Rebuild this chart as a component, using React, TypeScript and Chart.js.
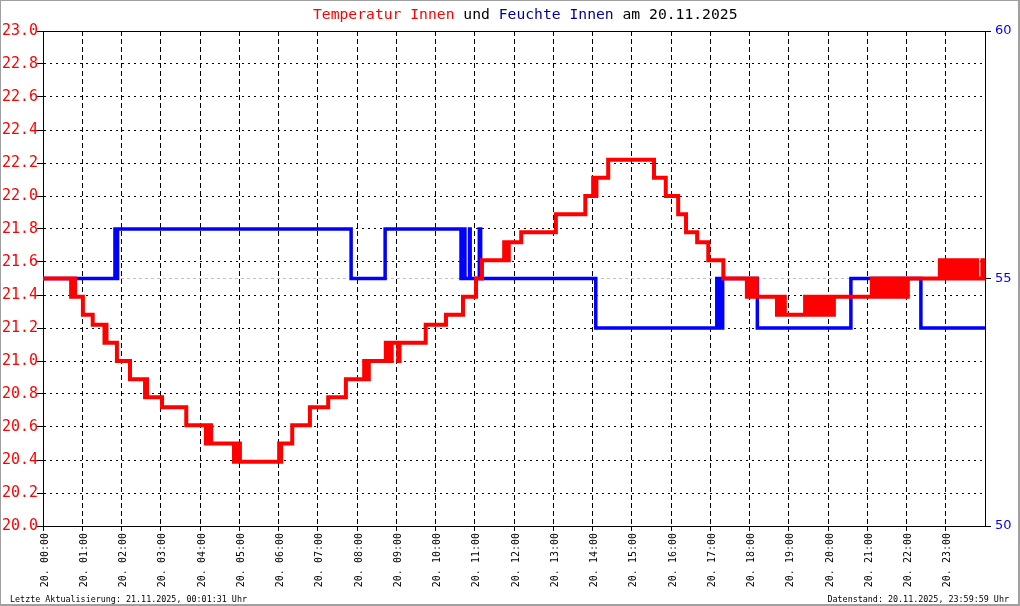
import React, { useEffect, useRef } from 'react';
import { Chart, registerables } from 'chart.js';

Chart.register(...registerables);

// Temperatur Innen: change points (minutes after 00:00, °C)
const tempTimes = [
  0, 43, 44, 46, 47, 49, 61, 76, 94, 96, 97, 113, 133, 156, 158, 159, 182, 219,
  249, 251, 253, 255, 257, 292, 294, 296, 299, 301, 361, 363, 364, 381, 408, 436,
  463, 491, 493, 495, 496, 498, 524, 527, 529, 531, 533, 543, 545, 585, 616, 642,
  662, 671, 705, 707, 709, 711, 712, 731, 784, 829, 841, 843, 846, 864, 934, 952,
  971, 983, 1000, 1017, 1040, 1076, 1078, 1081, 1083, 1086, 1088, 1091, 1122, 1124,
  1127, 1129, 1131, 1133, 1134, 1165, 1166, 1168, 1170, 1172, 1174, 1176, 1178,
  1181, 1183, 1185, 1187, 1190, 1192, 1194, 1196, 1199, 1203, 1204, 1208, 1209,
  1267, 1269, 1271, 1273, 1275, 1277, 1279, 1281, 1283, 1285, 1288, 1290, 1292,
  1294, 1296, 1299, 1301, 1303, 1305, 1307, 1309, 1311, 1313, 1315, 1317, 1319,
  1322, 1371, 1373, 1375, 1377, 1379, 1381, 1383, 1386, 1388, 1390, 1392, 1394,
  1396, 1398, 1400, 1402, 1404, 1407, 1413, 1415, 1417, 1419, 1421, 1423, 1425,
  1428, 1436, 1437, 1440,
];
const tempValues = [
  21.5, 21.39, 21.5, 21.39, 21.5, 21.39, 21.28, 21.22, 21.11, 21.22, 21.11, 21.0, 20.89, 20.78, 20.89, 20.78, 20.72, 20.61,
  20.5, 20.61, 20.5, 20.61, 20.5, 20.39, 20.5, 20.39, 20.5, 20.39, 20.5, 20.39, 20.5, 20.61, 20.72, 20.78,
  20.89, 21.0, 20.89, 21.0, 20.89, 21.0, 21.11, 21.0, 21.11, 21.0, 21.11, 21.0, 21.11, 21.22, 21.28, 21.39,
  21.5, 21.61, 21.72, 21.61, 21.72, 21.61, 21.72, 21.78, 21.89, 22.0, 22.11, 22.0, 22.11, 22.22, 22.11, 22.0,
  21.89, 21.78, 21.72, 21.61, 21.5, 21.39, 21.5, 21.39, 21.5, 21.39, 21.5, 21.39, 21.28, 21.39,
  21.28, 21.39, 21.28, 21.39, 21.28, 21.39, 21.28, 21.39, 21.28, 21.39, 21.28, 21.39, 21.28,
  21.39, 21.28, 21.39, 21.28, 21.39, 21.28, 21.39, 21.28, 21.39, 21.28, 21.39, 21.28, 21.39,
  21.5, 21.39, 21.5, 21.39, 21.5, 21.39, 21.5, 21.39, 21.5, 21.39, 21.5, 21.39, 21.5,
  21.39, 21.5, 21.39, 21.5, 21.39, 21.5, 21.39, 21.5, 21.39, 21.5, 21.39, 21.5, 21.39,
  21.5, 21.61, 21.5, 21.61, 21.5, 21.61, 21.5, 21.61, 21.5, 21.61, 21.5, 21.61, 21.5,
  21.61, 21.5, 21.61, 21.5, 21.61, 21.5, 21.61, 21.5, 21.61, 21.5, 21.61, 21.5, 21.61,
  21.5, 21.61, 21.5, 21.5,
];

// Feuchte Innen: change points (minutes after 00:00, %)
const humTimes = [
  0, 110, 111, 114, 471, 523, 639, 640, 642, 643, 645, 652, 653, 667, 669, 845,
  1030, 1031, 1033, 1034, 1036, 1037, 1039, 1092, 1235, 1342, 1440,
];
const humValues = [
  55, 56, 55, 56, 55, 56, 55, 56, 55, 56, 55, 56, 55, 56, 55, 54,
  55, 54, 55, 54, 55, 54, 55, 54, 55, 54, 54,
];

const xTickLabels = [
  '20. 00:00', '20. 01:00', '20. 02:00', '20. 03:00', '20. 04:00', '20. 05:00',
  '20. 06:00', '20. 07:00', '20. 08:00', '20. 09:00', '20. 10:00', '20. 11:00',
  '20. 12:00', '20. 13:00', '20. 14:00', '20. 15:00', '20. 16:00', '20. 17:00',
  '20. 18:00', '20. 19:00', '20. 20:00', '20. 21:00', '20. 22:00', '20. 23:00',
];

const footerLeft = 'Letzte Aktualisierung: 21.11.2025, 00:01:31 Uhr';
const footerRight = 'Datenstand: 20.11.2025, 23:59:59 Uhr';

const MONO = '"DejaVu Sans Mono", "Liberation Mono", monospace';

export default function App() {
  const canvasRef = useRef<HTMLCanvasElement | null>(null);

  useEffect(() => {
    const canvas = canvasRef.current;
    if (!canvas) return;

    const topBorder = {
      id: 'topBorder',
      beforeDatasetsDraw(chart: any) {
        const { ctx, chartArea } = chart;
        ctx.save();
        ctx.fillStyle = '#000';
        ctx.fillRect(chartArea.left, chartArea.top, chartArea.right - chartArea.left, 1);
        ctx.restore();
      },
    };

    const chart = new Chart(canvas, {
      type: 'line',
      data: {
        datasets: [
          {
            label: 'Temperatur Innen',
            data: tempTimes.map((t, i) => ({ x: t, y: tempValues[i] })),
            borderColor: '#ff0000',
            borderWidth: 4,
            stepped: true,
            pointRadius: 0,
            yAxisID: 'y',
            order: 0,
          },
          {
            label: 'Feuchte Innen',
            data: humTimes.map((t, i) => ({ x: t, y: humValues[i] })),
            borderColor: '#0000ff',
            borderWidth: 3.5,
            stepped: true,
            pointRadius: 0,
            yAxisID: 'y2',
            order: 1,
          },
        ],
      },
      options: {
        responsive: false,
        animation: false,
        devicePixelRatio: 1,
        layout: { padding: { top: 31, left: 0, right: 0, bottom: 0 } },
        plugins: {
          legend: { display: false },
          title: { display: false },
          tooltip: { enabled: false },
        },
        scales: {
          x: {
            type: 'linear',
            min: 0,
            max: 1440,
            afterFit(scale: any) {
              scale.height = 80;
            },
            ticks: {
              stepSize: 60,
              autoSkip: false,
              minRotation: 90,
              maxRotation: 90,
              padding: 2,
              labelOffset: 2,
              color: '#000',
              font: { family: MONO, size: 10 },
              callback: (_v: any, i: number) => (i < xTickLabels.length ? xTickLabels[i] : null),
            },
            grid: { color: '#000', lineWidth: 1, tickLength: 5, tickColor: '#000' },
            border: { display: true, color: '#000', width: 1, dash: [5, 3] },
          },
          y: {
            position: 'left',
            min: 20,
            max: 23,
            afterFit(scale: any) {
              scale.width = 43;
            },
            ticks: {
              stepSize: 0.2,
              padding: -1,
              color: '#ff0000',
              font: { family: MONO, size: 15 },
              callback: (v: any) => Number(v).toFixed(1),
            },
            grid: { color: '#000', lineWidth: 1, tickLength: 6, tickColor: '#000' },
            border: { display: true, color: '#000', width: 1, dash: [2, 4] },
          },
          y2: {
            position: 'right',
            min: 50,
            max: 60,
            afterFit(scale: any) {
              scale.width = 35;
            },
            ticks: {
              stepSize: 5,
              padding: 4,
              color: '#0000ff',
              font: { family: '"DejaVu Sans", sans-serif', size: 13 },
              callback: (v: any) => String(Math.round(Number(v))),
            },
            grid: {
              color: (c: any) => (c.tick && c.tick.value === 55 ? '#c0c0c0' : 'rgba(0,0,0,0)'),
              lineWidth: 1,
              tickLength: 6,
              tickColor: '#000',
            },
            border: { display: true, color: '#000', width: 1, dash: [3, 3] },
          },
        },
      },
      plugins: [topBorder],
    });

    return () => chart.destroy();
  }, []);

  return (
    <div style={{ position: 'absolute', left: 0, top: 0, width: 1020, height: 606, background: '#fff', overflow: 'hidden' }}>
      <canvas ref={canvasRef} width={1020} height={606} style={{ position: 'absolute', left: 0, top: 0, width: 1020, height: 606 }} />
      <div
        style={{
          position: 'absolute', left: 313, top: 5.5, fontFamily: MONO, fontSize: 14.7,
          lineHeight: '15px', whiteSpace: 'pre', color: '#000',
        }}
      >
        <span style={{ color: '#ff0000' }}>Temperatur Innen</span>
        <span> und </span>
        <span style={{ color: '#0000a0' }}>Feuchte Innen</span>
        <span> am 20.11.2025</span>
      </div>
      <div
        style={{
          position: 'absolute', left: 10, top: 594.5, fontFamily: MONO, fontSize: 8.4,
          lineHeight: '9px', whiteSpace: 'pre', color: '#000',
        }}
      >
        {footerLeft}
      </div>
      <div
        style={{
          position: 'absolute', right: 11, top: 594.5, fontFamily: MONO, fontSize: 8.4,
          lineHeight: '9px', whiteSpace: 'pre', color: '#000', textAlign: 'right',
        }}
      >
        {footerRight}
      </div>
      <div
        style={{
          position: 'absolute', left: 0, top: 0, width: 1020, height: 606, boxSizing: 'border-box',
          borderTop: '1px solid #a0a0a0', borderLeft: '1px solid #a0a0a0',
          borderRight: '2px solid #a0a0a0', borderBottom: '2px solid #a0a0a0', pointerEvents: 'none',
        }}
      />
    </div>
  );
}
